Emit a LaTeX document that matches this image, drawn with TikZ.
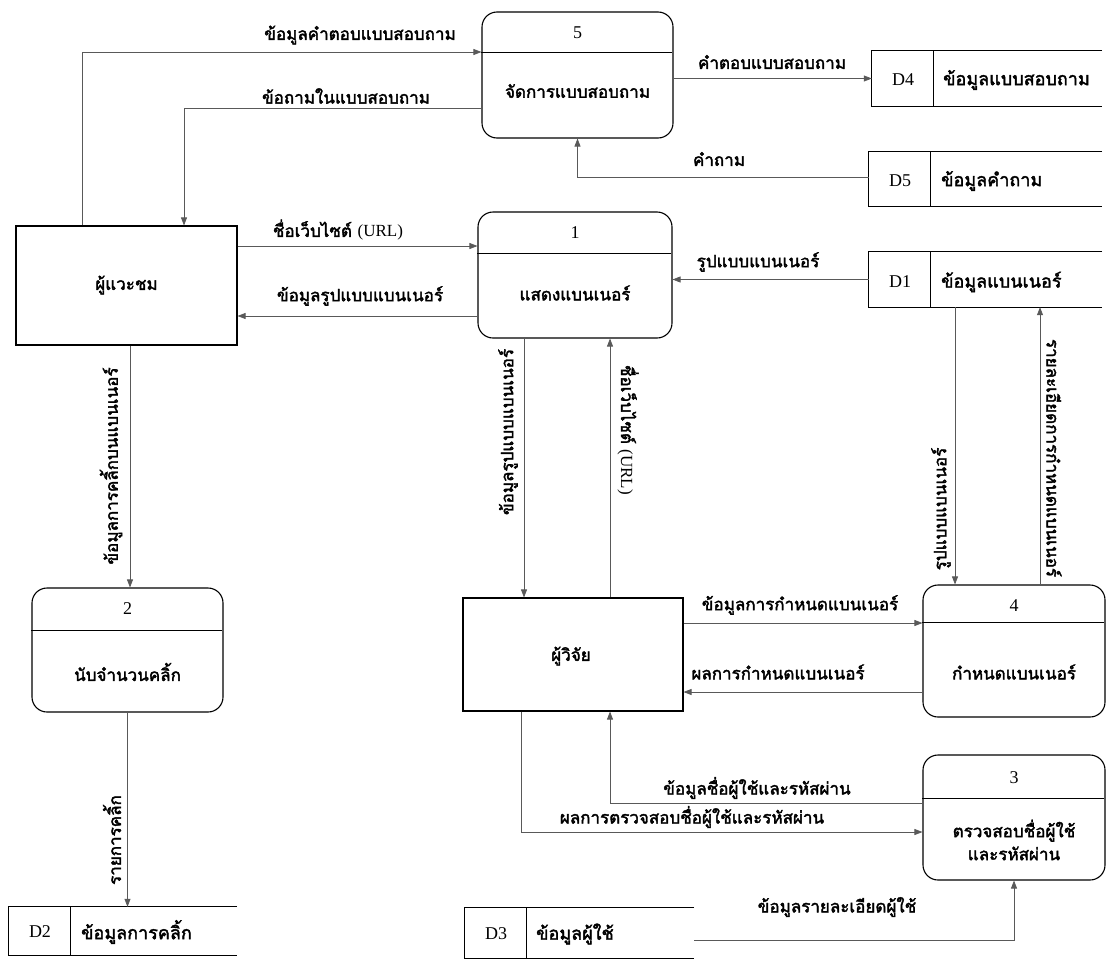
\documentclass[tikz,border=0pt]{standalone}
\usepackage{fontspec}
\setmainfont{Liberation Serif}
\newfontfamily\thai[Script=Thai,FakeBold=2.2]{Loma}
\usetikzlibrary{arrows.meta}
\begin{document}
\begin{tikzpicture}[x=1pt,y=-1pt,
  boxline/.style={draw=black,line width=1.1pt},
  proc/.style={draw=black,line width=1.1pt,rounded corners=15pt,inner sep=0pt},
  ext/.style={draw=black,line width=1.1pt,inner sep=0pt},
  storebox/.style={draw=none,inner sep=0pt},
  flow/.style={draw=black!65,line width=0.7pt,-{Triangle[length=8pt,width=6pt]}},
  lab/.style={font=\thai\fontsize{17}{20}\selectfont,inner sep=1pt},
  ptxt/.style={font=\thai\fontsize{17}{20}\selectfont,inner sep=1pt},
  stxt/.style={font=\thai\fontsize{18}{21}\selectfont,inner sep=1pt,anchor=west},
  num/.style={font=\rmfamily\fontsize{18}{20}\selectfont,inner sep=1pt},
]
\useasboundingbox (0,0) rectangle (1110,961);
\fill[white] (0,0) rectangle (1110,961);

% ---------- processes ----------
\node[proc,minimum width=191pt,minimum height=126pt] (p5) at (577.5,75) {};
\draw[boxline] (p5.north west) ++(0,41) -- ++(191,0);
\node[num] (p5n) at (577.5,33) {5};
\node[ptxt] (p5t) at (577.5,91) {จัดการแบบสอบถาม};

\node[proc,minimum width=194pt,minimum height=126pt] (p1) at (575,275) {};
\draw[boxline] (p1.north west) ++(0,42) -- ++(194,0);
\node[num] (p1n) at (575,233) {1};
\node[ptxt] (p1t) at (575,293) {แสดงแบนเนอร์};

\node[proc,minimum width=191pt,minimum height=124pt] (p2) at (127.5,650) {};
\draw[boxline] (p2.north west) ++(0,43) -- ++(191,0);
\node[num] (p2n) at (127.5,609) {2};
\node[ptxt] (p2t) at (127.5,672) {นับจำนวนคลิ้ก};

\node[proc,minimum width=182pt,minimum height=132pt] (p4) at (1014,651) {};
\draw[boxline] (p4.north west) ++(0,38) -- ++(182,0);
\node[num] (p4n) at (1014,606) {4};
\node[ptxt] (p4t) at (1014,672) {กำหนดแบนเนอร์};

\node[proc,minimum width=182pt,minimum height=125pt] (p3) at (1014,817.5) {};
\draw[boxline] (p3.north west) ++(0,44) -- ++(182,0);
\node[num] (p3n) at (1014,778) {3};
\node[ptxt,align=center] (p3t) at (1014,840) {ตรวจสอบชื่อผู้ใช้\\[3pt]และรหัสผ่าน};

% ---------- external entities ----------
\node[ext,minimum width=221pt,minimum height=119pt] (vis) at (126.5,285.5) {};
\node[ptxt] (vist) at (126.5,285) {ผู้แวะชม};
\node[ext,minimum width=220pt,minimum height=113pt] (res) at (573,654.5) {};
\node[ptxt] (rest) at (571,656) {ผู้วิจัย};

% ---------- data stores ----------
\node[storebox,minimum width=230pt,minimum height=55pt] (d4) at (987,78.5) {};
\node[storebox,minimum width=233pt,minimum height=54pt] (d5) at (985.5,179) {};
\node[storebox,minimum width=233pt,minimum height=55pt] (d1) at (985.5,279.5) {};
\node[storebox,minimum width=228pt,minimum height=48pt] (d2) at (123,931) {};
\node[storebox,minimum width=229pt,minimum height=50pt] (d3) at (579.5,933) {};
\foreach \s in {d4,d5,d1,d2,d3}{
  \draw[boxline] (\s.north east) -- (\s.north west) -- (\s.south west) -- (\s.south east);
  \draw[boxline] ([xshift=62pt]\s.north west) -- ([xshift=62pt]\s.south west);
}
\node[num] (d4i) at (903,80) {D4};
\node[stxt] (d4t) at (942,80) {ข้อมูลแบบสอบถาม};
\node[num] (d5i) at (900,181) {D5};
\node[stxt] (d5t) at (940,181) {ข้อมูลคำถาม};
\node[num] (d1i) at (900,282) {D1};
\node[stxt] (d1t) at (940,282) {ข้อมูลแบนเนอร์};
\node[num] (d2i) at (40,932) {D2};
\node[stxt] (d2t) at (80,932) {ข้อมูลการคลิ้ก};
\node[num] (d3i) at (496,934) {D3};
\node[stxt] (d3t) at (535,934) {ข้อมูลผู้ใช้};

% ---------- flows ----------
\draw[flow] ([xshift=-44.5pt]vis.north) |- ([yshift=23pt]p5.west);
\node[lab] (l1) at (360,35) {ข้อมูลคำตอบแบบสอบถาม};

\draw[flow] ([yshift=-33pt]p5.west) -| ([xshift=57.5pt]vis.north);
\node[lab] (l2) at (346,96) {ข้อถามในแบบสอบถาม};

\draw[flow] (p5.east |- d4.west) -- (d4.west);
\node[lab] (l3) at (772,62) {คำตอบแบบสอบถาม};

\draw[flow] ([yshift=2pt]d5.west) -| (p5.south);
\node[lab] (l4) at (719,159) {คำถาม};

\coordinate (c5) at ([yshift=39.5pt]vis.east);
\draw[flow] (c5) -- (c5 -| p1.west);
\node[lab] (l5) at (338,230) {ชื่อเว็บไซต์ {\rmfamily(URL)}};

\coordinate (c6) at ([yshift=-30.5pt]vis.east);
\draw[flow] (c6 -| p1.west) -- (c6);
\node[lab] (l6) at (360,296) {ข้อมูลรูปแบบแบนเนอร์};

\draw[flow] (d1.west) -- (d1.west -| p1.east);
\node[lab] (l7) at (758,262) {รูปแบบแบนเนอร์};

\coordinate (c8) at ([xshift=3.5pt]vis.south);
\draw[flow] (c8) -- (c8 |- p2.north);
\node[lab,rotate=90] (l8) at (111,466) {ข้อมูลการคลิ้กบนแบนเนอร์};

\draw[flow] (p2.south) -- (p2.south |- d2.north);
\node[lab,rotate=90] (l9) at (112,840) {รายการคลิ้ก};

\coordinate (c10) at ([xshift=-51pt]p1.south);
\draw[flow] (c10) -- (c10 |- res.north);
\node[lab,rotate=90] (l10) at (508,432) {ข้อมูลรูปแบบแบนเนอร์};

\coordinate (c11) at ([xshift=37pt]res.north);
\draw[flow] (c11) -- (c11 |- p1.south);
\node[lab,rotate=-90] (l11) at (628,430) {ชื่อเว็บไซต์ {\rmfamily(URL)}};

\coordinate (c12) at ([xshift=-30.5pt]d1.south);
\draw[flow] (c12) -- (c12 |- p4.north);
\node[lab,rotate=90] (l12) at (941,509) {รูปแบบแบนเนอร์};

\coordinate (c13) at ([xshift=26pt]p4.north);
\draw[flow] (c13) -- (c13 |- d1.south);
\node[lab,rotate=-90] (l13) at (1054,458) {รายละเอียดการกำหนดแบนเนอร์};

\coordinate (c14) at ([yshift=31.5pt]res.east);
\draw[flow] (c14) -- (c14 -| p4.west);
\node[lab] (l14) at (800,605) {ข้อมูลการกำหนดแบนเนอร์};

\coordinate (c15) at ([yshift=-41pt]p4.west);
\draw[flow] (c15) -- (c15 -| res.east);
\node[lab] (l15) at (778,672) {ผลการกำหนดแบนเนอร์};

\draw[flow] ([yshift=14.5pt]p3.west) -| ([xshift=37pt]res.south);
\node[lab] (l16) at (757,788) {ข้อมูลชื่อผู้ใช้และรหัสผ่าน};

\draw[flow] ([xshift=-52pt]res.south) |- ([yshift=-14.5pt]p3.west);
\node[lab] (l17) at (692,817) {ผลการตรวจสอบชื่อผู้ใช้และรหัสผ่าน};

\draw[flow] ([yshift=-7pt]d3.east) -| (p3.south);
\node[lab] (l18) at (837,907) {ข้อมูลรายละเอียดผู้ใช้};
\end{tikzpicture}
\end{document}
